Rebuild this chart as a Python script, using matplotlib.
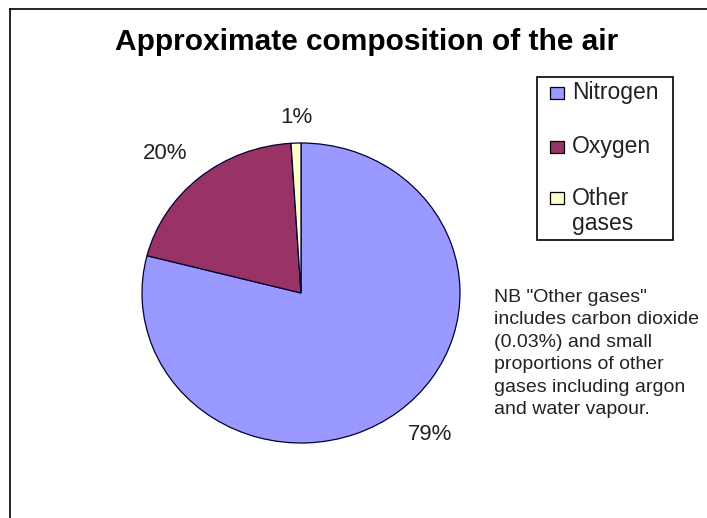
import numpy as np
import matplotlib
matplotlib.use("Agg")
import matplotlib.pyplot as plt
from matplotlib.patches import Rectangle

plt.rcParams['font.family'] = ['Liberation Sans', 'DejaVu Sans']

# ---- data ----
gases = ["Nitrogen", "Oxygen", "Other\ngases"]
percent = [79, 20, 1]
colors = ["#9999FF", "#993366", "#FFFFCC"]
title = "Approximate composition of the air"
note = ('NB "Other gases"\nincludes carbon dioxide\n(0.03%) and small\n'
        'proportions of other\ngases including argon\nand water vapour.')

W, H = 707, 518
fig = plt.figure(figsize=(W / 100, H / 100), dpi=100)
fig.patch.set_facecolor("white")

def fx(px):
    return px / W

def fy(py):
    return 1 - py / H

# outer chart border (left and top visible)
fig.add_artist(plt.Line2D([fx(10), fx(10)], [fy(9), 0], color="black", lw=1.2))
fig.add_artist(plt.Line2D([fx(10), 1], [fy(9), fy(9)], color="black", lw=1.2))

# title
fig.text(fx(367), fy(50), title, ha="center", va="baseline",
         fontsize=21.5, fontweight="bold", color="black")

# pie axes: x 142..460, y 143..443 px
ax = fig.add_axes([fx(142), fy(443), (460 - 142) / W, (443 - 143) / H])
wedges, _ = ax.pie(percent, colors=colors, startangle=90, counterclock=False,
                   radius=1, wedgeprops=dict(edgecolor="#000033", linewidth=0.9))
ax.set_aspect("auto")
ax.set_xlim(-1, 1)
ax.set_ylim(-1, 1)
ax.axis("off")

# label placement (distance from centre, angular shift in degrees)
label_dist = [1.246, 1.266, 1.17]
label_shift = [2.9, 3.0, -0.3]
for w, v, d, s in zip(wedges, percent, label_dist, label_shift):
    ang = np.deg2rad((w.theta1 + w.theta2) / 2 + s)
    ax.text(d * np.cos(ang), d * np.sin(ang), f"{v}%", ha="center", va="center",
            fontsize=16, color="#222222", clip_on=False)

# legend box
fig.add_artist(Rectangle((fx(537), fy(240)), (673 - 537) / W, (240 - 77) / H,
                         transform=fig.transFigure, fill=False,
                         edgecolor="black", lw=1.2))
entry_y = [93, 147, 198]
for lab, col, yy in zip(gases, colors, entry_y):
    fig.add_artist(Rectangle((fx(550), fy(yy + 6)), 14 / W, 12 / H,
                             transform=fig.transFigure, facecolor=col,
                             edgecolor="black", lw=0.9))
    if "\n" in lab:
        fig.text(fx(572), fy(yy - 11), lab, ha="left", va="top",
                 fontsize=16.5, color="#222222", linespacing=1.1)
    else:
        fig.text(fx(572), fy(yy), lab, ha="left", va="center",
                 fontsize=16.5, color="#222222")

# note
fig.text(fx(494), fy(289), note, ha="left", va="top", fontsize=14,
         color="#222222", linespacing=1.42)

fig.savefig("out.png", dpi=100, facecolor="white")
